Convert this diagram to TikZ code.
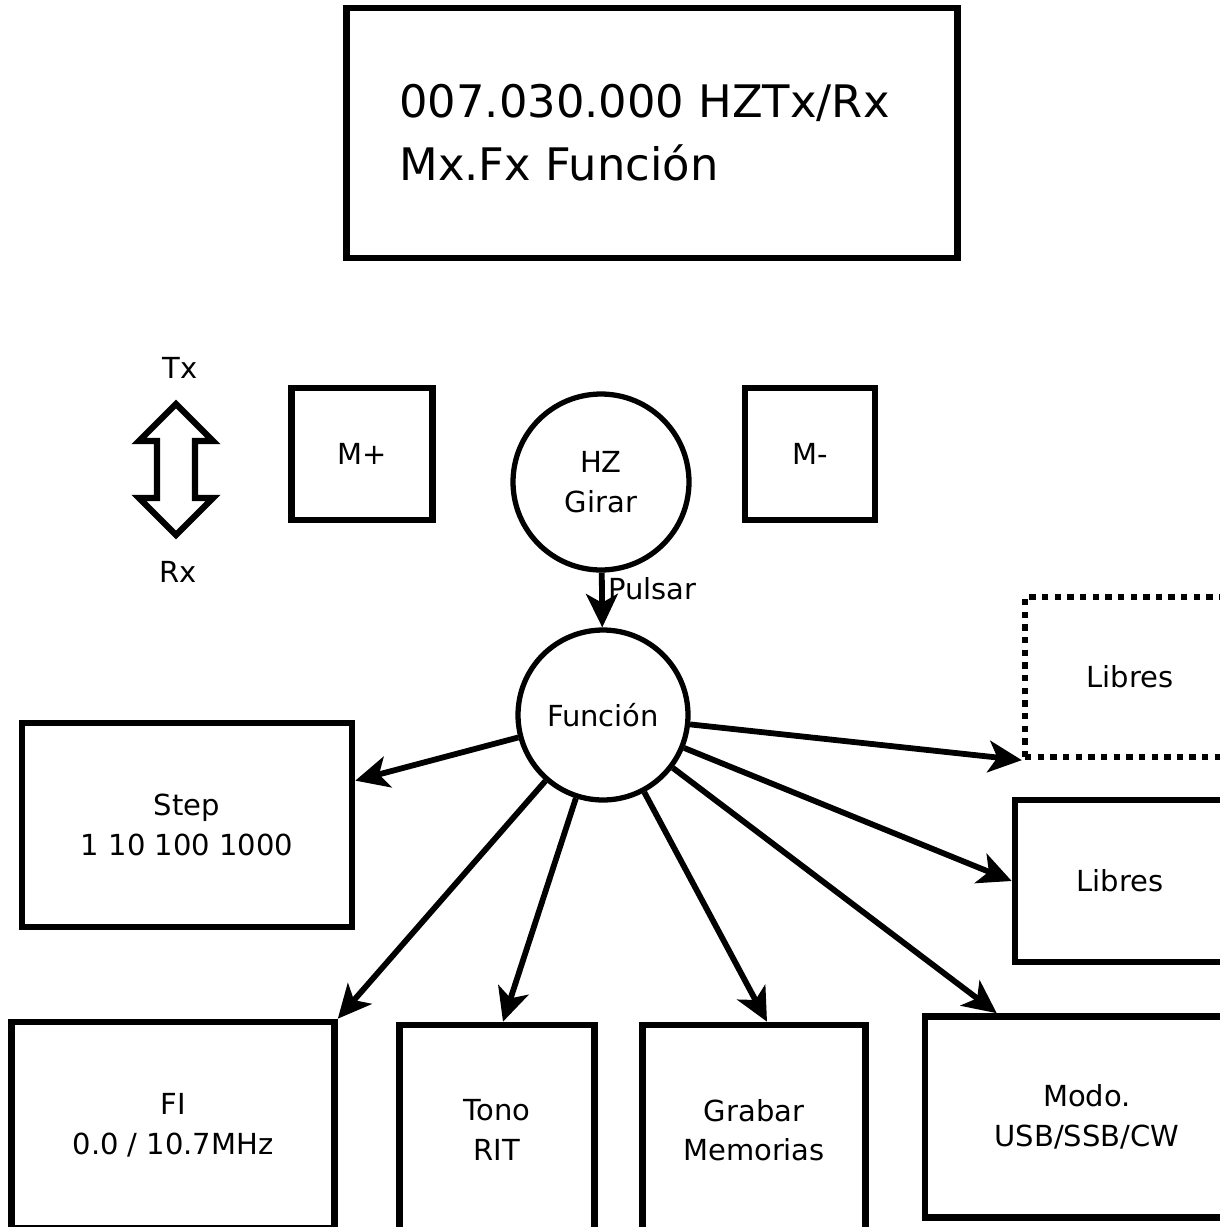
\documentclass[tikz,border=0pt]{standalone}
\usepackage{fontspec}
\setmainfont{DejaVu Sans}
\usetikzlibrary{shapes, arrows.meta, positioning, calc}

\tikzset{
  caja/.style={draw, line width=3.8pt, align=center,
    font=\fontsize{16.5}{22.5}\selectfont},
  circulo/.style={circle, draw, line width=3pt, align=center,
    inner sep=0pt, font=\fontsize{16.5}{22.5}\selectfont},
  libre/.style={draw, line width=3.6pt, dash pattern=on 3.6pt off 3.6pt,
    font=\fontsize{16.5}{22.5}\selectfont},
  flecha/.style={line width=3.3pt, -{Stealth[length=19pt, width=18pt, inset=5pt]}}
}

\begin{document}
\begin{tikzpicture}[x=0.02cm, y=-0.02cm]
  \clip (0,0) rectangle (1220,1227);
  \fill[white] (0,0) rectangle (1220,1227);

  % pantalla
  \node[caja, minimum width=12.22cm, minimum height=5cm] (pantalla) at (652,133) {};
  \node[anchor=west, align=left, font=\fontsize{25.5}{36}\selectfont] (lectura)
    at ([xshift=1cm]pantalla.west) {007.030.000 HZTx/Rx\\Mx.Fx Función};

  % mandos
  \node[font=\fontsize{16.5}{18}\selectfont] (tx) at (180,368) {Tx};
  \node[font=\fontsize{16.5}{18}\selectfont] (rx) at (178,572) {Rx};
  \draw[line width=3.6pt, line join=miter]
    (176,404) -- (213,441) -- (195,441) -- (195,498) -- (213,498)
    -- (176,535) -- (139,498) -- (157,498) -- (157,441) -- (139,441) -- cycle;

  \node[caja, minimum width=2.82cm, minimum height=2.64cm] (mmas) at (362,454) {M+};
  \node[caja, minimum width=2.6cm, minimum height=2.64cm] (mmenos) at (810,454) {M-};
  \node[circulo, minimum size=3.52cm] (hz) at (601,482) {HZ\\Girar};
  \node[circulo, minimum size=3.4cm] (funcion) at (603,715) {Función};

  \draw[flecha] (hz) -- (funcion)
    node[pos=0.3, right, inner sep=2pt, font=\fontsize{16.5}{18}\selectfont] {Pulsar};

  % opciones de la funcion
  \node[caja, minimum width=6.6cm, minimum height=4.08cm] (step) at (187,825) {Step\\1 10 100 1000};
  \node[caja, minimum width=6.46cm, minimum height=4.12cm] (fi) at (173,1125) {FI\\0.0 / 10.7MHz};
  \node[caja, minimum width=3.9cm, minimum height=4.2cm] (tono) at (497,1130) {Tono\\RIT};
  \node[caja, minimum width=4.46cm, minimum height=4.2cm] (grabar) at (754,1130) {Grabar\\Memorias};
  \node[caja, minimum width=6.48cm, minimum height=4.02cm] (modo) at (1087,1117) {Modo.\\USB/SSB/CW};
  \node[caja, minimum width=4.2cm, minimum height=3.24cm] (libres) at (1120,881) {Libres};
  \node[libre, minimum width=4.2cm, minimum height=3.2cm] (libresb) at (1130,677) {Libres};

  \draw[flecha] (funcion) -- (step);
  \draw[flecha] (funcion) -- (fi.north east);
  \draw[flecha] (funcion) -- ([xshift=0.12cm]tono.north);
  \draw[flecha] (funcion) -- ([xshift=0.26cm]grabar.north);
  \draw[flecha] (funcion) -- (modo.131);
  \draw[flecha] (funcion) -- (libres.west);
  \draw[flecha] (funcion) -- (libresb.south west);
\end{tikzpicture}
\end{document}
